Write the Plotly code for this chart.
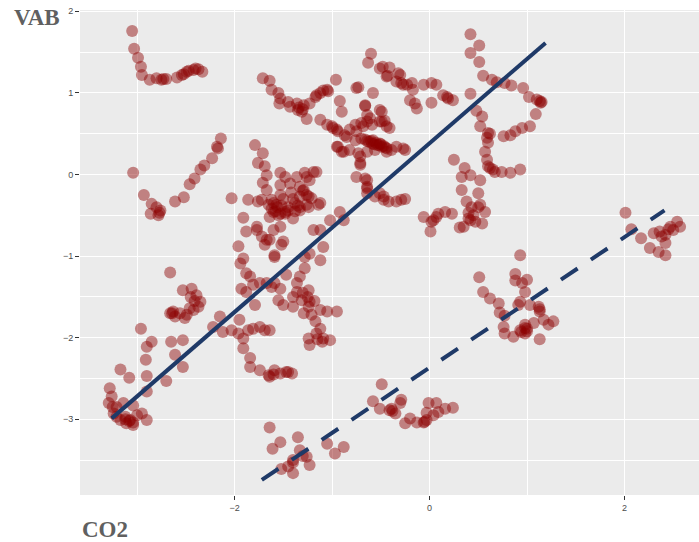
import plotly.graph_objects as go

# ---- point clusters (CO2 on x, VAB on y) ----
hook_x = [-3.05,-3.03,-2.99,-2.96,-2.95,-2.87,-2.80,-2.75,-2.73,-2.59,-2.54,-2.52,-2.49,-2.42,-2.37,-2.33,-2.47,-2.40,-2.70]
hook_y = [1.76,1.54,1.43,1.32,1.22,1.16,1.18,1.16,1.17,1.19,1.22,1.23,1.26,1.28,1.29,1.26,1.27,1.30,1.17]

leftv_x = [-3.04,-2.93,-2.85,-2.80,-2.76,-2.78,-2.86,-2.61,-2.52,-2.46,-2.41,-2.35,-2.31,-2.23,-2.18,-2.17,-2.14,-2.77]
leftv_y = [0.02,-0.25,-0.36,-0.40,-0.44,-0.50,-0.48,-0.33,-0.28,-0.12,-0.05,0.06,0.11,0.20,0.34,0.32,0.44,-0.47]

vtop_x = [-1.71,-1.64,-1.62,-1.55,-1.53,-1.54,-1.45,-1.43,-1.36,-1.35,-1.31,-1.26,-1.23,-1.17,-1.12,-1.09,-1.04,-0.96,
          -1.34,-1.30,-1.29,-1.05,-1.16]
vtop_y = [1.18,1.15,1.04,1.00,0.93,0.87,0.89,0.83,0.87,0.79,0.77,0.68,0.87,0.95,1.00,1.03,1.02,1.16,
          0.82,0.80,0.85,1.04,0.97]

trail_x = [-0.60,-0.63,-0.51,-0.41,-0.43,-0.32,-0.34,-0.27,-0.18,-0.17,-0.06,0.02,0.07,0.14,0.19,0.24,0.02,-0.15,-0.13,-0.20,
           -0.48,-0.44,-0.30,0.18,-0.73,-0.58,-0.29,-0.23]
trail_y = [1.48,1.37,1.30,1.31,1.21,1.24,1.14,1.10,1.12,1.04,1.10,1.12,1.10,0.97,0.93,0.91,0.88,0.87,0.81,0.91,
           1.32,1.20,1.22,0.95,1.07,1.00,1.12,1.10]

center_x = [-0.92,-0.90,-0.66,-0.64,-0.49,-1.12,-1.05,-0.99,-0.94,-0.87,-0.82,-0.76,-0.70,-0.64,-0.59,-0.51,-0.46,-0.44,-0.41,
            -0.76,-0.70,-0.64,-0.59,-0.54,-0.49,-0.44,-0.39,-0.34,-0.27,-0.25,-0.95,-0.90,-0.82,-0.73,-0.64,-0.56,-0.44,-0.85,
            -0.71,-0.71,-0.75,-0.66,-0.64,-0.64,-0.51,-0.47,-0.42,-0.34,-0.29,-0.25,
            -1.19,-1.26,-1.29,-1.24,-1.12,-1.33,-1.26,
            -1.00,-0.95,-0.94,-0.88,-0.75,-0.68,-0.58,-0.51,-0.71,-0.64,-0.64,-0.56,-0.47,-0.92,-0.88,-1.02,-1.12,-1.19,
            -0.75,-0.66,-0.51,-0.49,-0.61,
            -0.62,-0.57,-0.52,-0.47,-0.60,-0.55,-0.45,-0.66,-0.50]
center_y = [0.90,0.77,0.85,0.73,0.77,0.67,0.61,0.57,0.53,0.48,0.55,0.61,0.63,0.65,0.61,0.65,0.66,0.59,0.57,
            0.42,0.44,0.41,0.38,0.36,0.34,0.32,0.30,0.34,0.32,0.30,0.34,0.28,0.30,0.26,0.28,0.30,0.28,0.46,
            0.22,0.12,-0.03,-0.05,-0.15,-0.23,-0.23,-0.27,-0.33,-0.33,-0.31,-0.30,
            0.03,-0.03,-0.19,-0.27,-0.35,-0.40,-0.37,
            0.59,0.55,0.34,0.28,0.53,0.59,0.42,0.38,0.14,-0.07,-0.17,-0.27,-0.31,-0.46,-0.56,-0.56,-0.68,-0.68,
            1.06,0.84,0.79,0.65,0.69,
            0.40,0.37,0.36,0.35,0.41,0.39,0.33,0.43,0.37]

right_x = [0.42,0.51,0.42,0.51,0.55,0.64,0.69,0.77,0.84,0.96,1.02,1.13,1.15,1.09,1.03,0.95,0.88,0.83,0.76,0.42,0.48,0.54,
           0.52,0.60,0.60,0.57,0.59,0.60,0.65,0.74,0.83,0.93,1.10,1.14,0.59,0.62,0.62,0.67]
right_y = [1.72,1.58,1.49,1.38,1.21,1.16,1.13,1.12,1.09,1.06,0.95,0.90,0.89,0.74,0.59,0.57,0.53,0.48,0.47,0.99,0.78,0.71,
           0.59,0.51,0.39,0.28,0.18,0.10,0.06,0.03,0.02,0.06,0.92,0.88,0.45,0.50,0.08,0.03]

s_x = [0.25,0.36,0.33,0.42,0.52,0.33,0.50,0.38,0.43,0.52,0.57,0.40,0.47,0.54,0.35,0.42,0.31,0.07,0.16,0.23,0.04,-0.06,
       0.02,0.09,0.01,0.45,0.50,0.40]
s_y = [0.18,0.08,-0.03,-0.01,-0.07,-0.19,-0.23,-0.33,-0.40,-0.37,-0.46,-0.54,-0.58,-0.60,-0.64,-0.56,-0.65,-0.52,-0.46,
       -0.48,-0.56,-0.52,-0.58,-0.48,-0.70,-0.50,-0.40,-0.47]

blob_x = [-1.79,-1.71,-1.76,-1.69,-1.67,-1.71,-1.48,-1.36,-1.28,-1.16,-1.23,-1.53,-1.43,-1.33,-1.67,-1.72,-1.62,-1.57,-1.60,
          -1.53,-1.45,-1.38,-1.33,-1.26,-1.21,-1.14,-1.24,-1.33,-1.40,-1.48,-1.64,-2.03,-1.86,-1.76,-1.91,-1.53,-1.77,-1.88,
          -1.72,-1.64,-1.50,-1.52,-1.60,-1.96,-1.59,-1.69,-1.09,-1.23,-1.91,-1.53,-1.77,-1.67,
          -1.60,-1.56,-1.52,-1.58,-1.50,-1.45,-1.40,-1.35,-1.62,-1.55,-1.48,-1.42,-1.30,-1.38,-1.65,-1.53]
blob_y = [0.36,0.26,0.14,0.10,-0.01,-0.10,-0.03,-0.03,0.02,0.03,-0.07,-0.13,-0.11,-0.15,-0.19,-0.31,-0.31,-0.37,-0.46,
          -0.48,-0.44,-0.35,-0.27,-0.25,-0.29,-0.37,-0.40,-0.44,-0.54,-0.46,-0.52,-0.29,-0.31,-0.33,-0.53,-0.64,-0.64,-0.70,
          -0.76,-0.80,-0.82,-0.86,-0.68,-0.88,-0.99,-0.86,-0.89,-0.97,-1.03,0.02,-0.68,-0.80,
          -0.35,-0.40,-0.38,-0.45,-0.30,-0.40,-0.30,-0.38,-0.42,-0.50,-0.48,-0.22,-0.20,-0.45,-0.37,-0.25]

mid_x = [-1.94,-1.88,-1.84,-1.93,-1.88,-1.81,-1.74,-1.67,-1.62,-1.59,-1.53,-1.55,-1.50,-1.79,-1.59,-1.47,-1.36,-1.33,-1.28,
         -1.28,-1.12,-1.40,-1.36,-1.31,-1.24,-1.24,-1.29,-1.21,-1.12,-1.05,-0.95,-1.17,-1.12,-1.16,-1.24,-1.23,-1.09,-1.02,
         -1.40,-1.23,
         -2.15,-2.22,-2.12,-2.03,-1.95,-1.96,-1.91,-1.91,-1.84,-1.84,-1.74,-1.65,-1.59,-1.53,-1.47,-1.41,-1.64,-1.86,-1.81,
         -1.74,-1.69,-1.64,
         -1.30,-1.25,-1.18,-1.15,-1.10,-1.60,-1.45]
mid_y = [-1.09,-1.21,-1.25,-1.40,-1.44,-1.35,-1.33,-1.33,-1.38,-1.33,-1.40,-1.54,-1.60,-1.60,-1.01,-1.23,-1.33,-1.25,-1.15,
         -1.01,-1.05,-1.50,-1.44,-1.54,-1.42,-1.62,-1.70,-1.72,-1.66,-1.68,-1.68,-1.80,-1.89,-1.95,-2.01,-2.09,-2.01,-2.03,
         -1.62,-1.56,
         -1.74,-1.87,-1.93,-1.91,-1.78,-1.95,-2.01,-2.13,-2.25,-2.36,-2.40,-2.46,-2.40,-2.44,-2.42,-2.44,-2.48,-1.91,-1.89,
         -1.87,-1.91,-1.91,
         -1.45,-1.50,-1.55,-2.02,-2.05,-2.45,-2.42]

sclust_x = [-2.66,-2.53,-2.44,-2.39,-2.35,-2.37,-2.42,-2.49,-2.56,-2.63,-2.66,-2.61,-2.51,-2.46,-2.64,-2.45,-2.41]
sclust_y = [-1.20,-1.42,-1.40,-1.48,-1.56,-1.62,-1.66,-1.72,-1.70,-1.68,-1.70,-1.74,-1.76,-1.64,-1.70,-1.50,-1.55]

lowleft_x = [-2.96,-2.85,-2.90,-2.91,-3.17,-3.08,-2.90,-2.90,-2.70,-3.28,-3.26,-3.29,-3.21,-3.14,-3.04,-2.95,-2.90,-3.24,
             -3.17,-3.11,-3.04,-3.07,-3.00,-3.12,-3.21,-2.53,-2.65,-2.61,-2.53,-3.08,-3.04,-3.12,-3.25]
lowleft_y = [-1.89,-2.05,-2.11,-2.27,-2.39,-2.49,-2.47,-2.66,-2.53,-2.62,-2.72,-2.80,-2.85,-2.80,-2.83,-2.93,-3.01,-2.93,
             -3.01,-3.05,-3.07,-3.01,-2.95,-2.97,-2.97,-2.03,-2.05,-2.21,-2.36,-3.02,-3.04,-3.00,-2.85]

bottom_x = [-1.64,-1.53,-1.61,-1.35,-1.33,-1.26,-1.23,-1.40,-1.45,-1.52,-1.40,-1.05,-0.97,-0.88,-1.40,-1.30]
bottom_y = [-3.10,-3.28,-3.36,-3.22,-3.38,-3.46,-3.56,-3.53,-3.58,-3.61,-3.66,-3.30,-3.42,-3.34,-3.50,-3.45]

lowmid_x = [-0.58,-0.49,-0.51,-0.39,-0.35,-0.29,-0.30,-0.25,-0.20,-0.13,-0.06,-0.03,-0.03,-0.01,0.07,0.09,0.16,0.24,
            0.04,-0.41,-0.38,-0.05]
lowmid_y = [-2.78,-2.57,-2.87,-2.87,-2.93,-2.76,-2.80,-3.05,-2.99,-3.04,-3.04,-3.01,-2.92,-2.80,-2.80,-2.91,-2.87,-2.86,
            -2.95,-2.89,-2.90,-3.03]

rlow_x = [0.93,0.51,0.88,0.88,1.00,0.55,0.62,0.71,0.72,0.77,0.98,0.93,0.91,1.03,1.12,1.13,1.07,1.17,1.22,1.27,0.76,0.77,
          0.86,0.93,0.98,1.00,1.13,0.98,0.98,1.00,0.94,1.13,0.95]
rlow_y = [-0.99,-1.26,-1.22,-1.30,-1.29,-1.44,-1.52,-1.58,-1.69,-1.73,-1.44,-1.56,-1.60,-1.60,-1.62,-1.68,-1.82,-1.78,
          -1.84,-1.80,-1.87,-1.95,-1.99,-1.91,-1.95,-1.89,-2.02,-1.84,-1.88,-1.92,-1.93,-1.65,-1.33]

far_x = [2.01,2.07,2.17,2.30,2.36,2.42,2.47,2.54,2.57,2.50,2.42,2.26,2.35,2.42,2.38,2.45]
far_y = [-0.47,-0.67,-0.78,-0.72,-0.70,-0.74,-0.64,-0.58,-0.64,-0.68,-0.84,-0.90,-0.95,-0.99,-0.76,-0.67]

# ---- fitted lines ----
solid_fit = dict(intercept=0.382, slope=1.034, x_from=-3.26, x_to=1.19)
dashed_fit = dict(intercept=-2.367, slope=0.80, x_from=-1.72, x_to=2.41)

x_ticks = [-2, 0, 2]
y_ticks = [-3, -2, -1, 0, 1, 2]

all_x = (hook_x + leftv_x + vtop_x + trail_x + center_x + right_x + s_x + blob_x + mid_x + sclust_x
         + lowleft_x + bottom_x + lowmid_x + rlow_x + far_x)
all_y = (hook_y + leftv_y + vtop_y + trail_y + center_y + right_y + s_y + blob_y + mid_y + sclust_y
         + lowleft_y + bottom_y + lowmid_y + rlow_y + far_y)

fig = go.Figure()
fig.add_trace(go.Scatter(
    x=all_x, y=all_y, mode="markers",
    marker=dict(size=12, color="#8B0000", opacity=0.45, line=dict(width=0)),
    showlegend=False, hoverinfo="skip"))


def fit_line(f):
    xs = [f["x_from"], f["x_to"]]
    ys = [f["intercept"] + f["slope"] * v for v in xs]
    return xs, ys


sx, sy = fit_line(solid_fit)
fig.add_trace(go.Scatter(x=sx, y=sy, mode="lines",
                         line=dict(color="#1F3A68", width=4), showlegend=False))
dx, dy = fit_line(dashed_fit)
fig.add_trace(go.Scatter(x=dx, y=dy, mode="lines",
                         line=dict(color="#1F3A68", width=4, dash="20px,16px"), showlegend=False))

tickfont = dict(family="Liberation Sans, Arial, sans-serif", size=9, color="#4D4D4D")
fig.update_layout(
    width=699, height=542,
    margin=dict(l=80, r=0, t=10, b=47),
    paper_bgcolor="white", plot_bgcolor="#EBEBEB",
    xaxis=dict(range=[-3.585, 2.764], tickvals=x_ticks, ticks="outside", ticklen=4,
               tickcolor="#333333", tickwidth=1, tickfont=tickfont,
               showgrid=True, gridcolor="white", gridwidth=1.1, zeroline=False, showline=False,
               minor=dict(tickvals=[-3, -1, 1], showgrid=True, gridcolor="white", gridwidth=0.5, ticks="")),
    yaxis=dict(range=[-3.928, 2.016], tickvals=y_ticks, ticks="outside", ticklen=4,
               tickcolor="#333333", tickwidth=1, tickfont=tickfont,
               showgrid=True, gridcolor="white", gridwidth=1.1, zeroline=False, showline=False,
               minor=dict(tickvals=[-3.5, -2.5, -1.5, -0.5, 0.5, 1.5], showgrid=True,
                          gridcolor="white", gridwidth=0.5, ticks="")),
    annotations=[
        dict(text="<b>VAB</b>", xref="paper", yref="paper", x=-0.1103, y=0.9845,
             xanchor="left", yanchor="middle", showarrow=False,
             font=dict(family="Liberation Serif, Times New Roman, serif", size=23, color="#606060")),
        dict(text="<b>CO2</b>", xref="paper", yref="paper", x=0.0, y=-0.072,
             xanchor="left", yanchor="middle", showarrow=False,
             font=dict(family="Liberation Serif, Times New Roman, serif", size=23, color="#606060")),
    ],
)

fig.write_html("out.html")
